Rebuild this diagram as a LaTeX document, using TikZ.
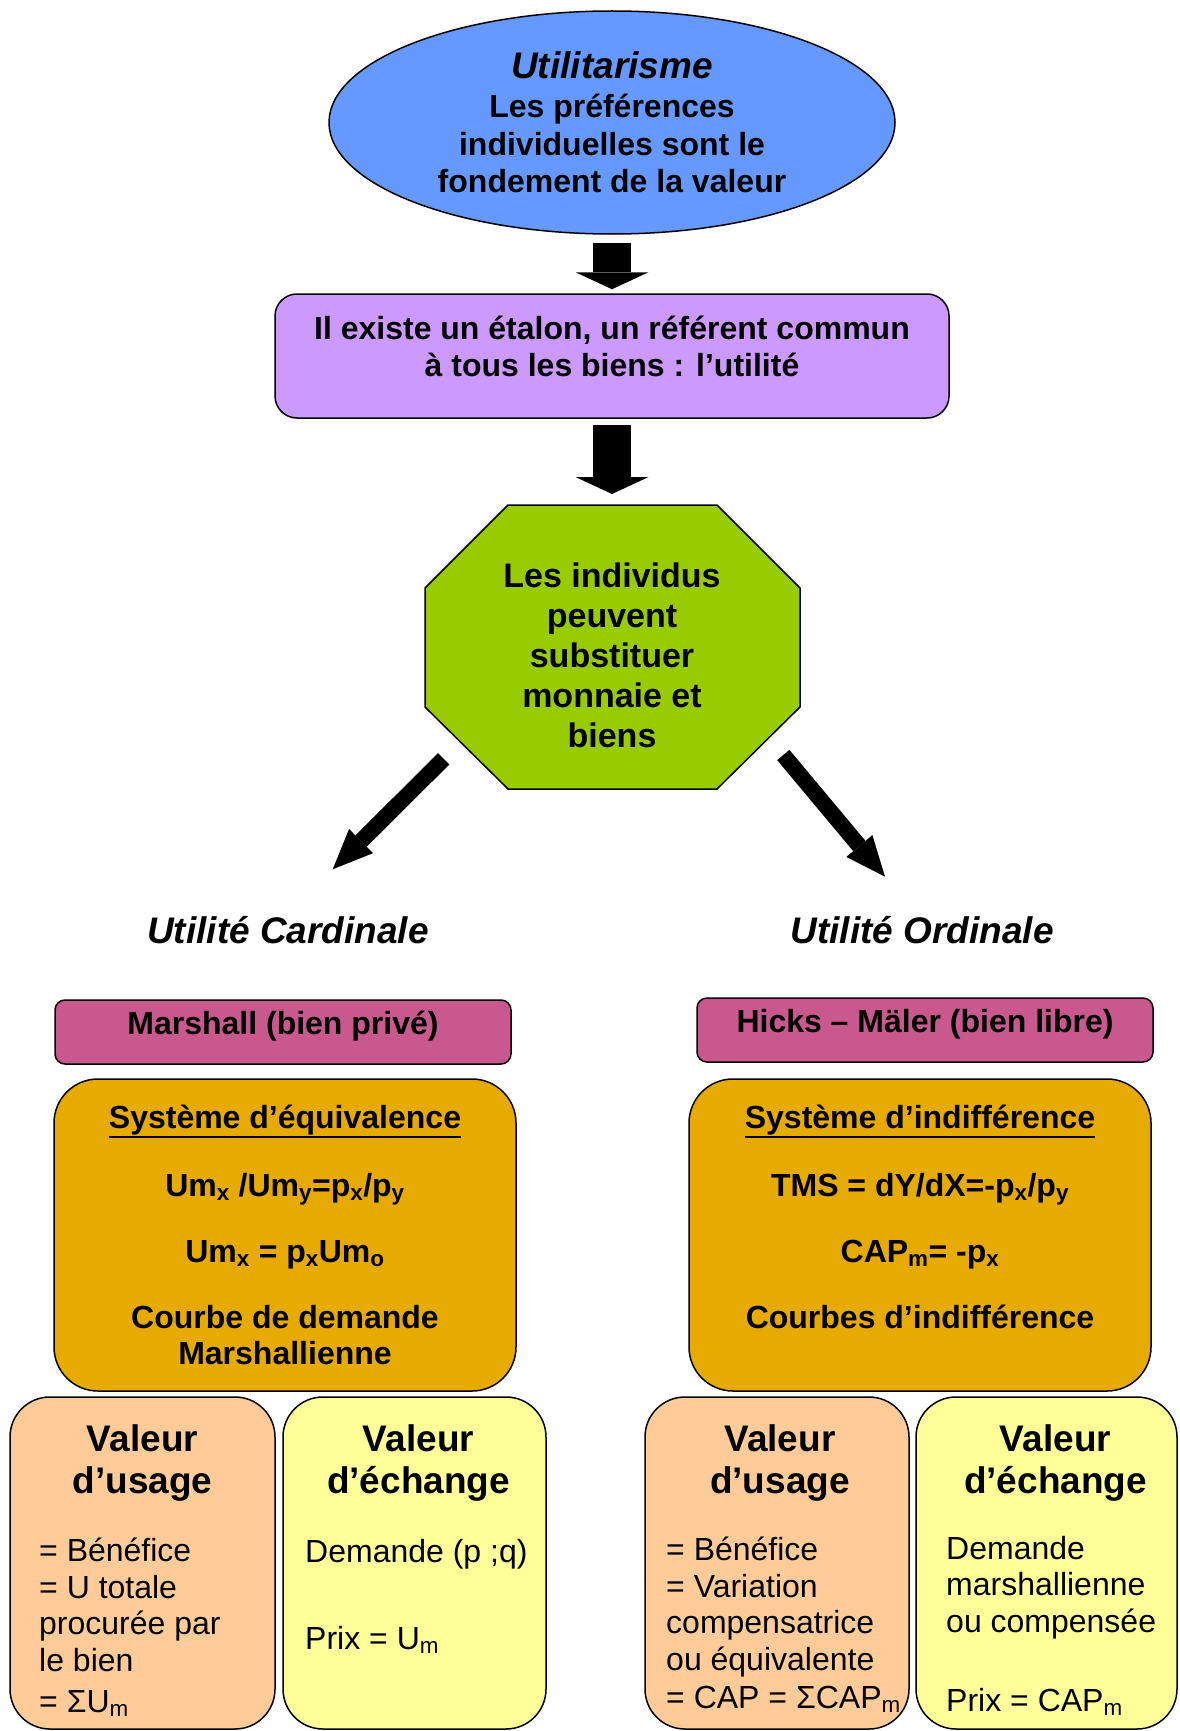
\documentclass[tikz,border=0pt]{standalone}
\usepackage{fontspec}
\setmainfont{Liberation Sans}
\usetikzlibrary{shapes.geometric,arrows.meta}
\definecolor{utilblue}{HTML}{6699FF}
\definecolor{lilac}{HTML}{CC99FF}
\definecolor{octgreen}{HTML}{99CC00}
\definecolor{mauve}{HTML}{C8588D}
\definecolor{ocre}{HTML}{E6AA00}
\definecolor{peach}{HTML}{FFCC99}
\definecolor{paleyellow}{HTML}{FFFF99}
\newcommand{\sz}[2]{\fontsize{#1}{#2}\selectfont}
\newcommand{\souligne}[1]{\leavevmode\setbox0=\hbox{#1}\rlap{\rule[-9.5pt]{\wd0}{2.4pt}}\box0}
\tikzset{
  bigtxt/.style={font=\bfseries\sz{32}{37.5}, align=center},
  box/.style={draw, line width=1.5pt, inner sep=0pt},
  blockarrow/.style={line width=38pt, -{Triangle[width=73pt,length=17pt,line width=0pt]}},
  slantarrow/.style={line width=16pt, -{Triangle[width=34pt,length=40pt,line width=0pt]}},
  namebox/.style={box, fill=mauve, rounded corners=10pt, minimum width=456pt, text height=34.5pt, text depth=29.5pt, bigtxt},
  sysbox/.style={box, fill=ocre, rounded corners=44pt, minimum width=462pt, bigtxt, font=\bfseries\sz{32}{36}},
  valbox/.style={box, rounded corners=40pt, text height=96pt, text depth=236pt, align=center, font=\bfseries\sz{37}{42}},
  valtxt/.style={anchor=base west, align=left, inner sep=0pt, font=\sz{32}{36.5}},
  title/.style={font=\bfseries\itshape\sz{37}{42}}
}
\begin{document}
\begin{tikzpicture}[x=1pt,y=-1pt]
  \useasboundingbox (0,0) rectangle (1179,1731);
  \node[box, ellipse, fill=utilblue, minimum width=566pt, minimum height=223pt, bigtxt] (utilit) at (612,122.5) {{\itshape\sz{37}{39}Utilitarisme}\\[1.5pt]Les préférences\\individuelles sont le\\fondement de la valeur};
  \node[box, fill=lilac, rounded corners=22pt, minimum width=674pt, text height=82.5pt, text depth=41.5pt, bigtxt] (etalon) at (612,356) {Il existe un étalon, un référent commun\\à tous les biens : l’utilité};
  \coordinate (octN) at (612,505);
  \draw[line width=1.5pt, fill=octgreen] (508,505) -- (717,505) -- (800,588) -- (800,707) -- (717,789) -- (508,789) -- (425,707) -- (425,588) -- cycle;
  \node[bigtxt, font=\bfseries\sz{34}{40}, anchor=base] (subst) at (612,747) {Les individus\\peuvent\\substituer\\monnaie et\\biens};
  \draw[blockarrow, shorten <=8pt, shorten >=4pt] (utilit.south) -- (etalon.north);
  \draw[blockarrow, shorten <=6pt, shorten >=11pt] (etalon.south) -- (octN);
  \node[title] (cardinale) at (288,930) {Utilité Cardinale};
  \node[title] (ordinale) at (922,930) {Utilité Ordinale};
  \coordinate (cardfrom) at (443.7,758.8);
  \coordinate (cardto) at (332.7,869.3);
  \coordinate (ordfrom) at (783.3,755);
  \coordinate (ordto) at (885,876.7);
  \draw[slantarrow] (cardfrom) -- (cardto);
  \draw[slantarrow] (ordfrom) -- (ordto);
  \node[namebox] (marshall) at (283,1032) {Marshall (bien privé)};
  \node[namebox] (hicks) at (925,1030) {Hicks – Mäler (bien libre)};
  \node[sysbox, text height=285.5pt, text depth=26.5pt] (equiv) at (285,1235) {\souligne{Système d’équivalence}\\[32pt]Um\textsubscript{x} /Um\textsubscript{y}=p\textsubscript{x}/p\textsubscript{y}\\[30pt]Um\textsubscript{x} = p\textsubscript{x}Um\textsubscript{o}\\[30pt]Courbe de demande\\Marshallienne};
  \node[sysbox, text height=249.5pt, text depth=62.5pt] (indiff) at (920,1235) {\souligne{Système d’indifférence}\\[32pt]TMS = dY/dX=-p\textsubscript{x}/p\textsubscript{y}\\[30pt]CAP\textsubscript{m}= -p\textsubscript{x}\\[30pt]Courbes d’indifférence};
  \node[valbox, fill=peach, minimum width=265pt] (usageC) at (142.5,1563) {Valeur\\d’usage};
  \node[valbox, fill=paleyellow, minimum width=263pt] (echangeC) at (414.5,1563) {\hspace*{8pt}Valeur\\\hspace*{8pt}d’échange};
  \node[valbox, fill=peach, minimum width=264pt] (usageO) at (777,1563) {\hspace*{6pt}Valeur\\\hspace*{6pt}d’usage};
  \node[valbox, fill=paleyellow, minimum width=261pt] (echangeO) at (1046.5,1563) {\hspace*{18pt}Valeur\\\hspace*{18pt}d’échange};
  \node[valtxt] (usageCtxt) at (39,1712.5) {= Bénéfice\\= U totale\\procurée par\\le bien\\[5pt]= ΣU\textsubscript{m}};
  \node[valtxt] (echangeCtxt) at (305,1649.5) {Demande (p ;q)\\[51pt]Prix = U\textsubscript{m}};
  \node[valtxt] (usageOtxt) at (666,1708.5) {= Bénéfice\\= Variation\\compensatrice\\ou équivalente\\[2pt]= CAP = ΣCAP\textsubscript{m}};
  \node[valtxt] (echangeOtxt) at (946,1711.5) {Demande\\marshallienne\\ou compensée\\[43pt]Prix = CAP\textsubscript{m}};
\end{tikzpicture}
\end{document}
